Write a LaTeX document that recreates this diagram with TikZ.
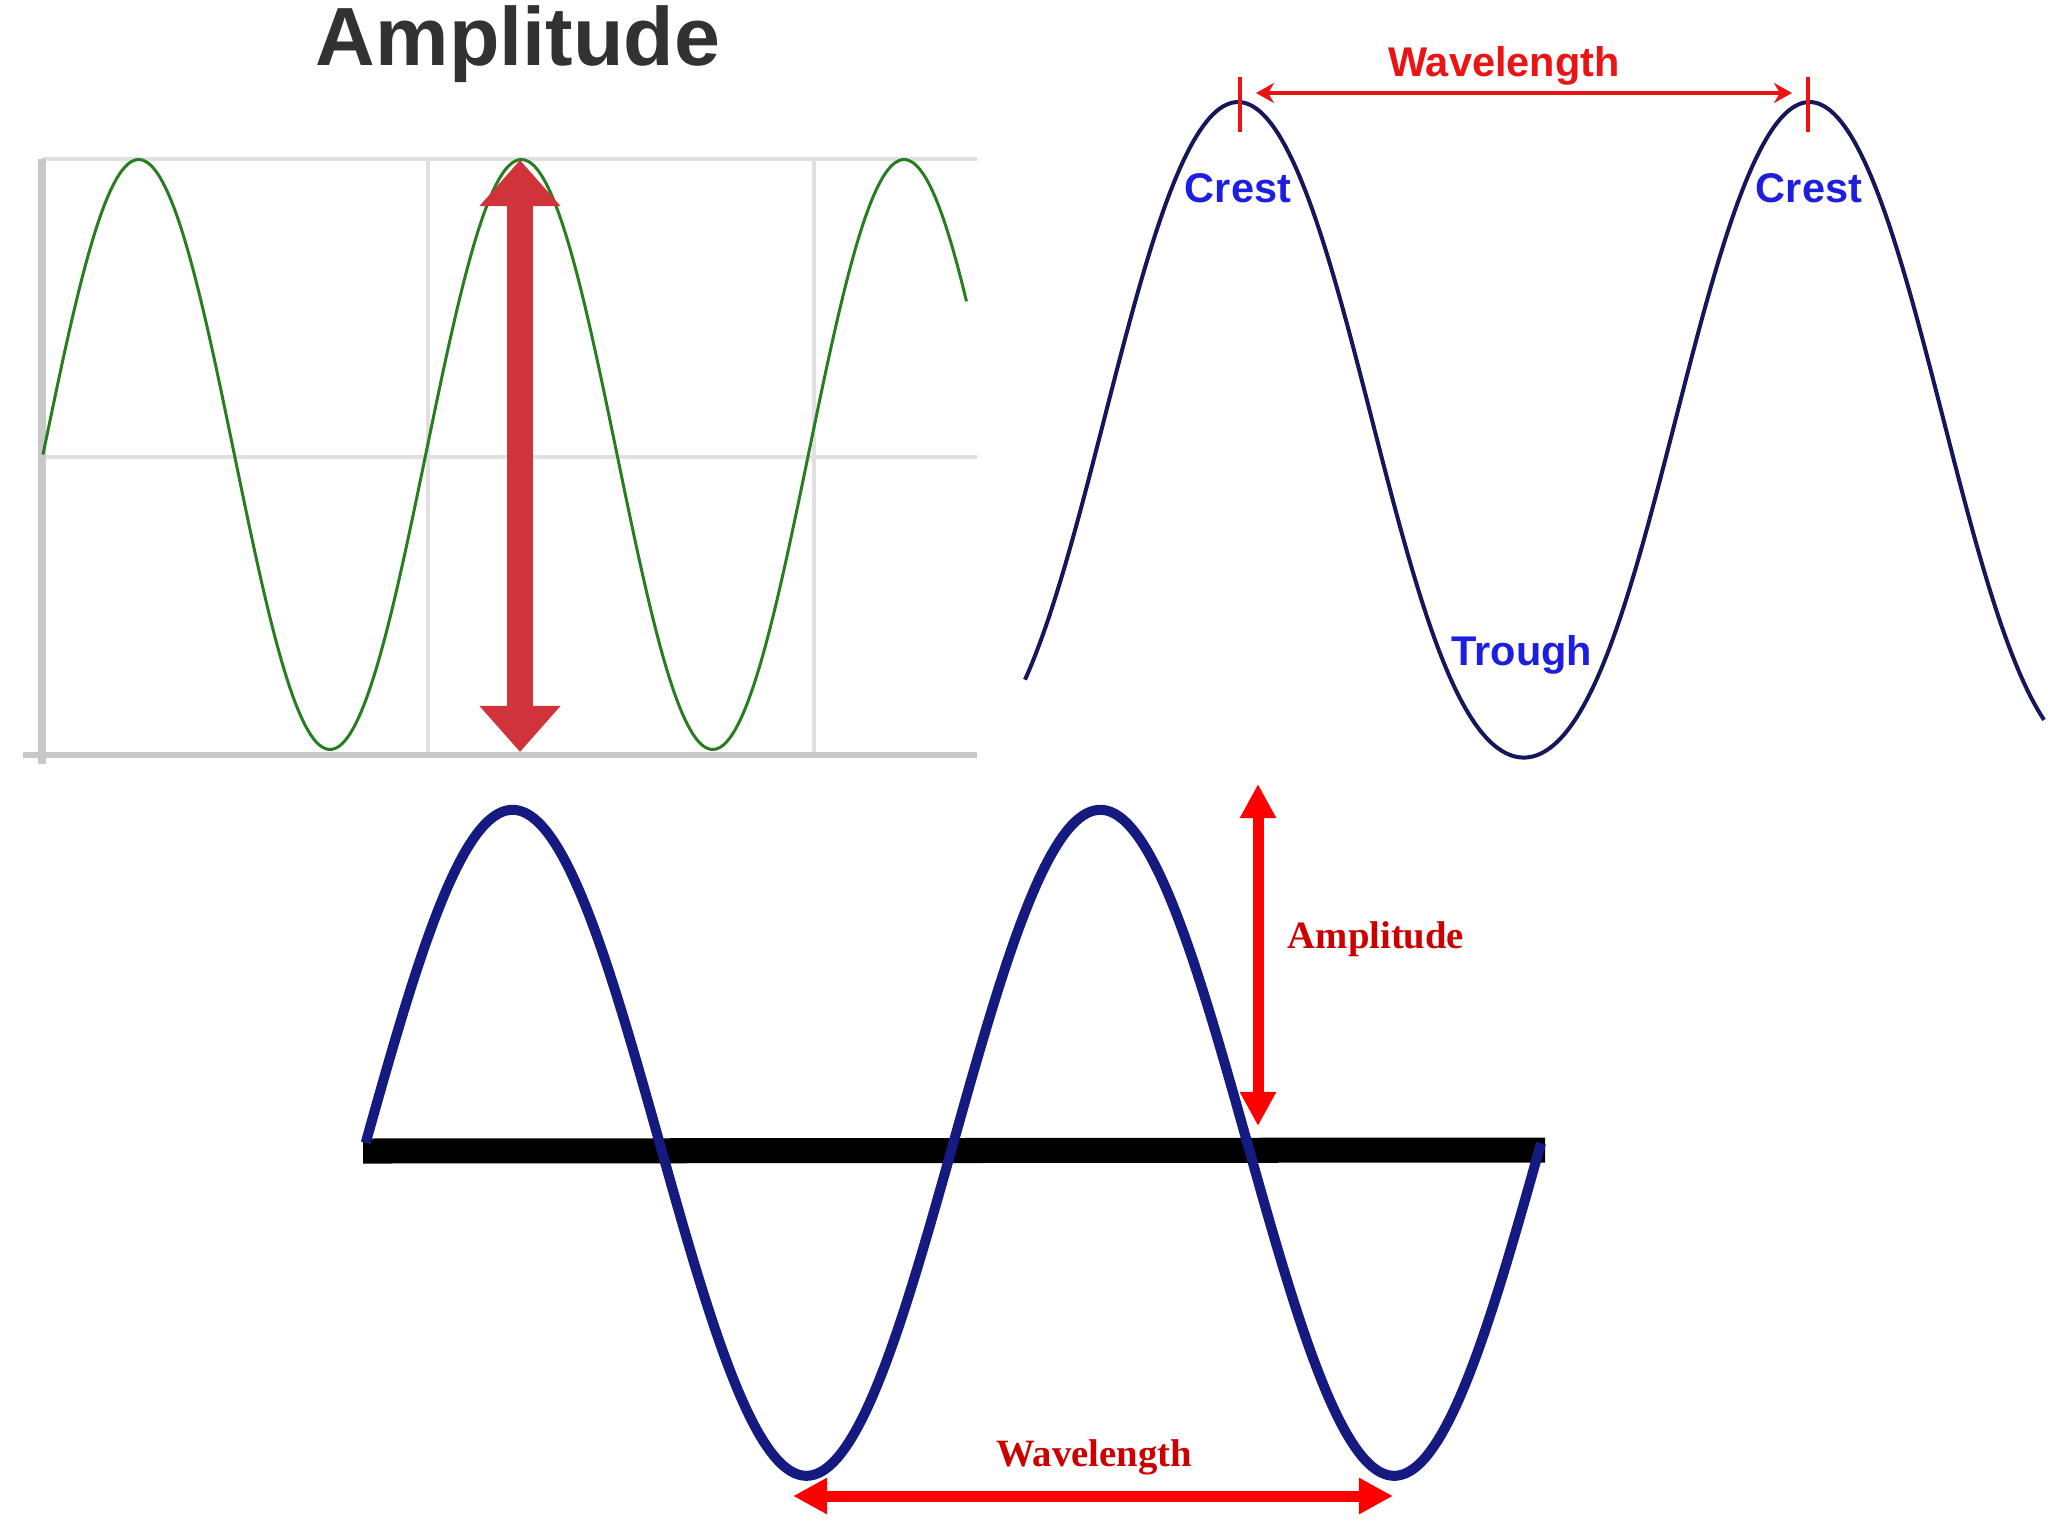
\documentclass[tikz,border=0pt]{standalone}
\usepackage{fontspec}
\setmainfont{Liberation Sans}
\newfontfamily\timesfont{Liberation Serif}
\usepackage{tikz}
\usetikzlibrary{arrows.meta}
\definecolor{gridgray}{RGB}{224,224,224}
\definecolor{axisgray}{RGB}{200,200,200}
\definecolor{wavegreen}{RGB}{40,125,32}
\definecolor{fatred}{RGB}{208,52,58}
\definecolor{titlegray}{RGB}{50,50,50}
\definecolor{crestnavy}{RGB}{22,22,90}
\definecolor{crestblue}{RGB}{30,30,225}
\definecolor{markred}{RGB}{235,20,20}
\definecolor{wavenavy}{RGB}{20,26,128}
\definecolor{txtred}{RGB}{205,0,0}

\begin{document}
\begin{tikzpicture}[x=0.01cm, y=-0.01cm,
  grid/.style={draw=gridgray, line width=0.04cm},
  fat/.style={draw=fatred, line width=0.25cm, {Triangle[width=0.78cm,length=0.46cm]}-{Triangle[width=0.78cm,length=0.46cm]}},
  thin/.style={draw=markred, line width=0.04cm, {Stealth[width=0.2cm,length=0.18cm]}-{Stealth[width=0.2cm,length=0.18cm]}},
  mid/.style={draw=red, line width=0.11cm, {Triangle[width=0.34cm,length=0.34cm]}-{Triangle[width=0.34cm,length=0.34cm]}},
  lab/.style={inner sep=0pt, anchor=base, font=\bfseries\fontsize{11.8}{14}\selectfont},
  slab/.style={inner sep=0pt, anchor=base, text=txtred, font=\timesfont\bfseries\fontsize{11}{13}\selectfont},]
\useasboundingbox (0,0) rectangle (2048,1536);

% top left: grid, green wave, fat arrow
\draw [grid] (42,159)--(977,159);
\draw [grid] (42,457)--(977,457);
\draw [grid] (428,159)--(428,755);
\draw [grid] (814,159)--(814,755);
\draw [draw=axisgray, line width=0.07cm] (42,159)--(42,764);
\draw [draw=axisgray, line width=0.06cm] (23,755)--(977,755);
\draw [wavegreen, line width=0.03cm] plot[domain=43:966.5, samples=260, smooth] (\x, {454.5-295*sin((\x-43)/382.7*360)});
\node (title) [inner sep=0pt, anchor=base, text=titlegray, font=\bfseries\fontsize{23.5}{28}\selectfont] at (518,65) {Amplitude};
\coordinate (fatTop) at (520,160);
\coordinate (fatBot) at (520,752);
\draw [fat] (fatTop)--(fatBot);

% top right: crests and trough (trough a little wider)
\draw [crestnavy, line width=0.04cm] plot[domain=1025:2044, samples=300, smooth, variable=\u] (\u, {429.8-327.8*(cos((\u-1238)/571.5*360)-0.075*sin((\u-1238)/571.5*360)*sin((\u-1238)/571.5*360)*(1-cos((\u-1238)/571.5*360)))});
\coordinate (tickA1) at (1240,77);
\coordinate (tickA2) at (1240,132);
\coordinate (tickB1) at (1808,77);
\coordinate (tickB2) at (1808,132);
\draw [markred, line width=0.04cm] (tickA1)--(tickA2);
\draw [markred, line width=0.04cm] (tickB1)--(tickB2);
\coordinate (wlA) at (1256,93);
\coordinate (wlB) at (1792,93);
\draw [thin] (wlA)--(wlB);
\node (wl) [lab, text=markred] at (1504,76) {Wavelength};
\node (crestA) [lab, text=crestblue] at (1238,202) {Crest};
\node (crestB) [lab, text=crestblue] at (1809,202) {Crest};
\node (trough) [lab, text=crestblue] at (1522,665) {Trough};

% bottom: axis, navy wave, amplitude and wavelength
\coordinate (axL) at (363,1151);
\coordinate (axR) at (1545,1150);
\draw [black, line width=0.25cm] (axL)--(axR);
\draw [wavenavy, line width=0.1cm] plot[domain=365.7:1541, samples=260, smooth] (\x, {1142.8-333*sin((\x-365.7)/587.7*360)});
\coordinate (ampTop) at (1258,784);
\coordinate (ampBot) at (1258,1126);
\draw [mid] (ampTop)--(ampBot);
\node (amp) [slab] at (1376,948) {Amplitude};
\coordinate (lamL) at (793,1496);
\coordinate (lamR) at (1393,1496);
\draw [mid] (lamL)--(lamR);
\node (lam) [slab] at (1094,1466) {Wavelength};
\end{tikzpicture}
\end{document}
